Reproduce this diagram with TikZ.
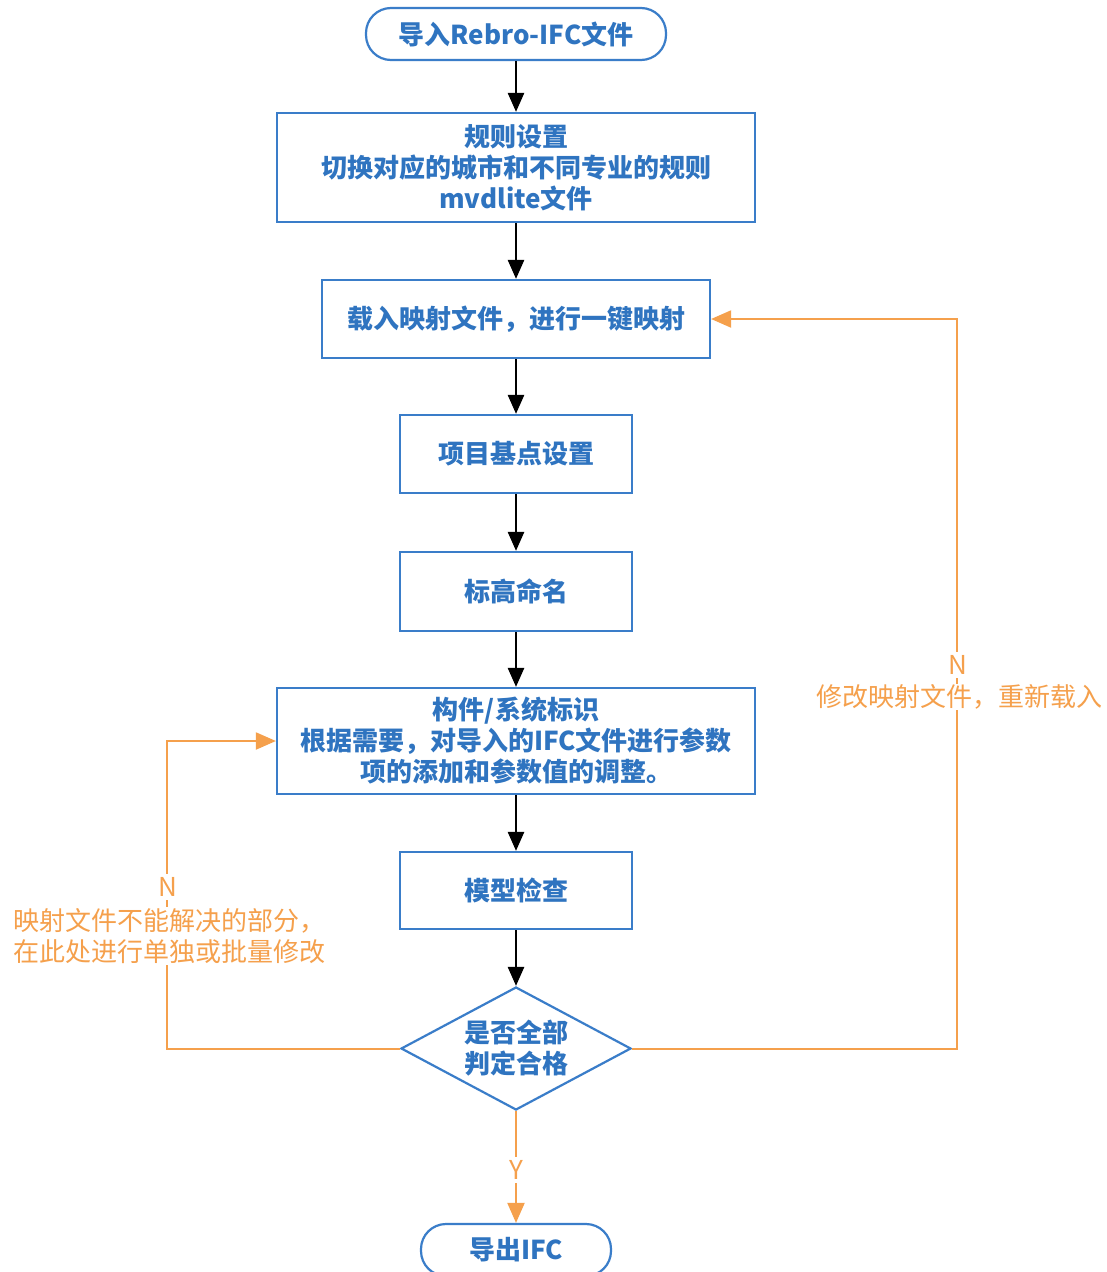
\documentclass[tikz,border=0pt]{standalone}
\usepackage{fontspec}
\newfontfamily\cjk{Noto Sans CJK SC}
\usetikzlibrary{shapes.geometric,arrows.meta}
\definecolor{bl}{HTML}{3A7DC9}
\definecolor{tb}{HTML}{2F74C0}
\definecolor{og}{HTML}{F5A04C}
\begin{document}
\begin{tikzpicture}[x=1pt,y=-1pt,
  box/.style={draw=bl,line width=2.2pt,align=center,text=tb,fill=white,
    font=\cjk\bfseries\fontsize{26}{31}\selectfont,inner sep=0pt},
  txt/.style={align=center,text=tb,font=\cjk\bfseries\fontsize{26}{31}\selectfont,inner sep=0pt},
  term/.style={box,rounded corners=25pt},
  deci/.style={box,diamond},
  flow/.style={draw=black,line width=2.6pt,-{Triangle[length=19pt,width=16pt]}},
  back/.style={draw=og,line width=2pt,-{Triangle[length=20pt,width=17pt]}},
  lab/.style={text=og,fill=white,inner sep=3pt,font=\cjk\fontsize{26}{31}\selectfont}]
\useasboundingbox (0,0) rectangle (1107,1272);
\fill[white] (0,0) rectangle (1107,1272);

\node[term,minimum width=300pt,minimum height=52pt] (start) at (516,34) {导入Rebro-IFC文件};
\node[box,minimum width=478pt,minimum height=109pt] (b1) at (516,167.5) {规则设置\\切换对应的城市和不同专业的规则\\mvdlite文件};
\node[box,minimum width=388pt,minimum height=78pt] (b2) at (516,319) {载入映射文件，进行一键映射};
\node[box,minimum width=232pt,minimum height=78pt] (b3) at (516,454) {项目基点设置};
\node[box,minimum width=232pt,minimum height=79pt] (b4) at (516,591.5) {标高命名};
\node[box,minimum width=478pt,minimum height=106pt] (b5) at (516,741) {构件/系统标识\\根据需要，对导入的IFC文件进行参数\\项的添加和参数值的调整。};
\node[box,minimum width=232pt,minimum height=77pt] (b6) at (516,890.5) {模型检查};
\node[deci,minimum width=230pt,minimum height=123pt] (dec) at (516,1048.5) {};
\node[txt] (dect) at (dec.center) {是否全部\\判定合格};
\node[term,minimum width=190pt,minimum height=52pt] (end) at (516,1250) {导出IFC};

\draw[flow] (start) -- (b1);
\draw[flow] (b1) -- (b2);
\draw[flow] (b2) -- (b3);
\draw[flow] (b3) -- (b4);
\draw[flow] (b4) -- (b5);
\draw[flow] (b5) -- (b6);
\draw[flow] (b6) -- (dec);

\coordinate (r1) at (957,1048.5);
\coordinate (r2) at (957,319);
\draw[back] (dec.east) -- (r1) -- (r2) -- (b2.east);
\node[lab] (nr) at (958,665) {N};
\node[lab,inner sep=1pt] (tr) at (959,697) {修改映射文件，重新载入};

\coordinate (l1) at (167,1048.5);
\coordinate (l2) at (167,741);
\draw[back] (dec.west) -- (l1) -- (l2) -- (b5.west);
\node[lab] (nl) at (168,887) {N};
\node[lab,inner sep=1pt,anchor=west,align=left] (tl) at (12,936) {映射文件不能解决的部分，\\在此处进行单独或批量修改};

\draw[back] (dec.south) -- (end.north);
\node[lab] (yl) at (516,1170) {Y};
\end{tikzpicture}
\end{document}
